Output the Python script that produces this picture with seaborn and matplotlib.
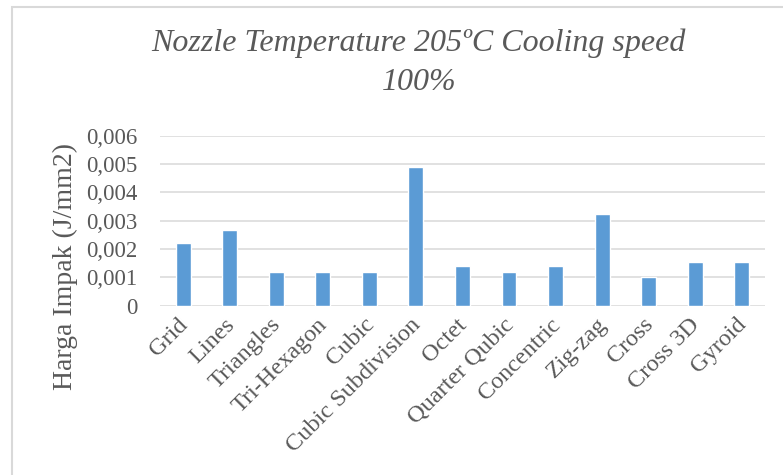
import seaborn as sns
import matplotlib.pyplot as plt
import matplotlib.patches as mpatches
import matplotlib.transforms as mtransforms
import pandas as pd

# data
categories = ["Grid", "Lines", "Triangles", "Tri-Hexagon", "Cubic", "Cubic Subdivision",
              "Octet", "Quarter Qubic", "Concentric", "Zig-zag", "Cross", "Cross 3D", "Gyroid"]
impact = [0.0022, 0.00268, 0.0012, 0.0012, 0.0012, 0.0049,
          0.0014, 0.0012, 0.0014, 0.00324, 0.001, 0.00155, 0.00155]
y_ticks = [0, 0.001, 0.002, 0.003, 0.004, 0.005, 0.006]
y_tick_labels = ["0", "0,001", "0,002", "0,003", "0,004", "0,005", "0,006"]

df = pd.DataFrame({"pola": categories, "impak": impact})

sns.set_style("white")
plt.rcParams["font.family"] = ["Liberation Serif", "DejaVu Serif"]
text_col = "#595959"

fig = plt.figure(figsize=(7.83, 4.75), dpi=100)
ax = fig.add_axes([0.2043, 0.3564, 0.7727, 0.3579])

sns.barplot(data=df, x="pola", y="impak", color="#5B9BD5", width=0.32,
            saturation=1, ax=ax)

ax.set_ylim(0, 0.006)
ax.set_xlim(-0.5, len(categories) - 0.5)
ax.set_yticks(y_ticks)
ax.set_yticklabels(y_tick_labels, fontsize=16.5, color=text_col)
ax.set_xticks(range(len(categories)))
ax.set_xticklabels(categories, rotation=45, ha="right", rotation_mode="anchor",
                   fontsize=17.5, color=text_col)
ax.tick_params(axis="both", length=0)
ax.tick_params(axis="y", pad=16)
ax.tick_params(axis="x", pad=6)
shift = mtransforms.ScaledTranslation(-6 / 100, 0, fig.dpi_scale_trans)
for lbl in ax.get_xticklabels():
    lbl.set_transform(lbl.get_transform() + shift)
ax.yaxis.grid(True, color="#D9D9D9", linewidth=1.1)
ax.set_axisbelow(True)
for s in ax.spines.values():
    s.set_visible(False)
ax.set_xlabel("")
ax.set_ylabel("")

fig.text(0.083, 0.44, "Harga Impak (J/mm2)", rotation=90, ha="center", va="center",
         fontsize=20, color=text_col)
fig.text(0.535, 0.91, "Nozzle Temperature 205ºC Cooling speed", ha="center", va="center",
         fontsize=23, style="italic", color=text_col)
fig.text(0.535, 0.826, "100%", ha="center", va="center",
         fontsize=23, style="italic", color=text_col)

# chart frame (only left/top edges visible in the reference)
fig.patches.append(mpatches.Rectangle((12 / 783, -0.1), 1.1, 1.1 - 7 / 475,
                                      transform=fig.transFigure, fill=False,
                                      edgecolor="#D9D9D9", linewidth=1.5))

fig.savefig("out.png", dpi=100)
